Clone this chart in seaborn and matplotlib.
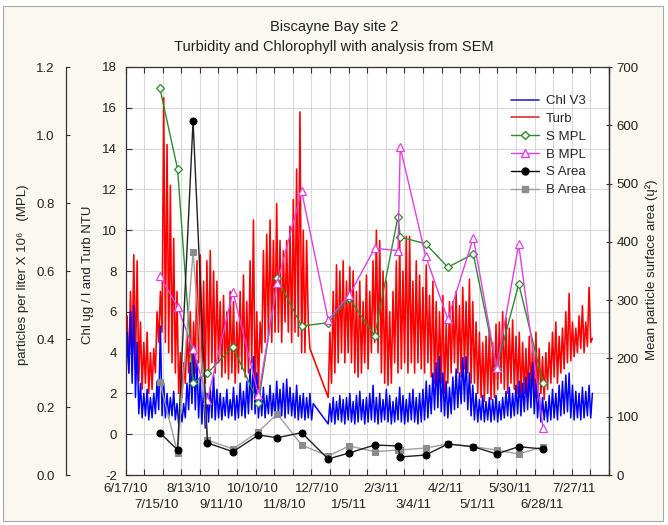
import numpy as np
import pandas as pd
import matplotlib
matplotlib.use("Agg")
import matplotlib.pyplot as plt
import seaborn as sns
from matplotlib.lines import Line2D
from matplotlib.patches import Rectangle

# ---------------- data ----------------
START = "2010-06-17"
tick_labels = ["6/17/10", "7/15/10", "8/13/10", "9/11/10", "10/10/10", "11/8/10",
               "12/7/10", "1/5/11", "2/3/11", "3/4/11", "4/2/11", "5/1/11",
               "5/30/11", "6/28/11", "7/27/11"]

# continuous records, one low/high pair every 3 days starting 6/17/10 (None = no data)
step_days = 3
turb_lo = [3.5, 3.0, 4.0, 3.2, 2.6, 2.2, 2.5, 2.0, 2.2, 3.0,
           4.5, 5.0, 4.5, 4.0, 3.5, 3.0, 2.0, 1.8, 2.5, 3.0,
           2.5, 3.0, 3.5, 3.0, 2.5, 3.0, 3.5, 3.0, 3.5, 2.8,
           3.0, 2.7, 3.0, 2.5, 3.0, 3.2, 2.8, 3.0, 3.5, 2.0,
           2.2, 4.0, 4.5, 4.8, 4.5, 5.0, 5.0, 4.5, 5.5, 5.0,
           4.5, 5.0, 4.8, 4.0, 4.0, 5.5, None, None, None, None,
           None, 1.8, 2.5, 3.0, 3.5, 4.0, 3.5, 4.0, 3.5, 3.0,
           2.8, 3.0, 3.5, 3.2, 4.0, 4.5, 4.0, 3.0, 2.5, 2.4,
           2.5, 3.5, 3.0, 3.2, 3.5, 3.0, 3.5, 3.0, 3.5, 3.2,
           3.0, 3.5, 2.8, 2.5, 2.2, 2.5, 2.0, 2.5, 3.0, 3.5,
           3.0, 2.8, 3.2, 3.0, 2.5, 2.5, 2.0, 1.8, 1.6, 2.0,
           1.7, 1.8, 2.2, 2.5, 2.2, 2.0, 2.5, 2.2, 2.0, 1.8,
           2.0, 1.8, 2.2, 1.6, 1.8, 2.0, 1.7, 2.2, 2.5, 2.8,
           2.5, 3.0, 3.2, 3.5, 3.6, 3.8, 4.0, 4.2, 4.0, 4.3,
           4.5]
turb_hi = [5.8, 7.0, 8.8, 8.5, 5.5, 4.5, 5.0, 4.0, 4.2, 6.0,
           7.0, 16.5, 14.2, 12.2, 9.6, 7.0, 4.0, 3.5, 5.0, 6.0,
           5.5, 8.5, 8.8, 7.5, 8.5, 9.0, 8.0, 7.5, 6.5, 6.8,
           6.0, 7.0, 6.5, 5.5, 7.0, 7.8, 6.5, 8.5, 10.5, 6.0,
           5.5, 9.0, 9.8, 10.5, 9.5, 11.3, 9.5, 9.0, 9.5, 10.2,
           11.5, 13.0, 15.8, 10.0, 9.5, 4.2, None, None, None, None,
           None, 5.0, 7.0, 8.3, 8.0, 8.5, 7.5, 8.2, 8.0, 7.0,
           7.5, 6.5, 7.8, 7.0, 8.5, 10.0, 9.5, 8.0, 7.5, 6.0,
           7.0, 8.5, 9.5, 8.0, 9.7, 9.7, 7.5, 8.5, 7.8, 7.2,
           8.3, 6.8, 7.5, 6.5, 6.0, 6.8, 5.5, 6.5, 6.5, 7.0,
           6.3, 7.2, 6.5, 7.6, 6.5, 5.5, 5.0, 4.5, 4.8, 5.2,
           4.5, 5.4, 5.5, 6.0, 5.7, 5.2, 5.6, 4.8, 5.0, 4.5,
           4.2, 4.8, 4.3, 5.0, 4.2, 3.8, 4.0, 4.5, 5.0, 5.5,
           4.8, 5.2, 6.0, 6.9, 5.5, 5.2, 5.8, 6.3, 5.5, 7.2,
           4.7]
chl_lo = [2.0, 3.0, 2.5, 1.8, 1.0, 0.8, 0.9, 0.7, 0.8, 1.0,
          1.2, 0.9, 0.8, 0.8, 0.9, 0.7, 0.5, 0.6, 0.8, 1.2,
          1.5, 1.2, 0.8, 0.5, 0.3, 0.6, 0.8, 0.7, 0.8, 0.7,
          0.9, 0.8, 0.9, 0.7, 0.8, 0.9, 0.8, 1.0, 1.2, 1.0,
          0.8, 0.9, 0.8, 1.0, 0.9, 0.8, 1.0, 0.9, 0.8, 1.0,
          0.9, 0.8, 0.7, 0.8, 0.7, 0.8, 0.7, None, None, None,
          None, 0.5, 0.6, 0.5, 0.7, 0.6, 0.5, 0.7, 0.6, 0.5,
          0.6, 0.7, 0.5, 0.6, 0.7, 0.6, 0.5, 0.6, 0.7, 0.6,
          0.5, 0.6, 0.7, 0.6, 0.5, 0.6, 0.7, 0.6, 0.5, 0.6,
          0.7, 0.8, 1.0, 1.2, 1.3, 1.1, 0.9, 0.8, 1.0, 1.2,
          1.3, 1.5, 1.6, 1.2, 0.9, 0.7, 0.6, 0.7, 0.6, 0.7,
          0.6, 0.7, 0.6, 0.7, 0.8, 0.9, 0.8, 0.9, 1.0, 0.9,
          1.1, 1.2, 1.3, 1.0, 0.8, 0.6, 0.7, 0.6, 0.7, 0.8,
          0.7, 0.9, 1.0, 1.1, 0.8, 0.7, 0.8, 0.7, 0.8, 0.9,
          0.8]
chl_hi = [5.0, 6.0, 6.3, 4.5, 2.5, 2.0, 2.2, 1.8, 2.0, 2.6,
          5.3, 2.5, 2.0, 1.8, 2.1, 1.5, 1.2, 1.5, 2.5, 3.5,
          4.3, 3.6, 2.8, 2.4, 2.0, 2.3, 2.9, 2.2, 2.0, 1.8,
          2.2, 1.7, 2.3, 1.9, 2.5, 2.1, 2.6, 3.2, 3.8, 3.0,
          2.0, 2.3, 1.9, 2.4, 2.0, 2.6, 2.2, 2.5, 2.7, 2.3,
          2.0, 2.4, 1.9, 2.0, 1.8, 2.0, 1.5, None, None, None,
          None, 1.5, 1.8, 1.6, 1.9, 1.7, 1.8, 2.0, 1.6, 1.9,
          2.1, 1.7, 1.8, 2.0, 2.4, 1.8, 2.0, 1.7, 2.2, 1.9,
          1.6, 1.8, 2.3, 1.9, 1.7, 2.0, 2.2, 1.8, 2.0, 2.2,
          2.6, 2.4, 3.0, 3.5, 3.8, 3.0, 2.6, 2.3, 2.8, 3.2,
          3.0, 3.75, 3.8, 3.0, 2.4, 2.0, 1.7, 1.9, 1.6, 1.8,
          1.7, 1.9, 1.6, 1.8, 2.1, 2.3, 2.0, 2.4, 2.6, 2.5,
          2.8, 3.0, 3.5, 2.7, 2.0, 1.8, 1.6, 1.9, 2.2, 2.0,
          2.4, 2.6, 2.9, 3.0, 2.4, 2.1, 2.0, 2.3, 2.1, 2.4,
          2.0]

# SEM samples
sample_dates = ["2010-07-18", "2010-08-03", "2010-08-17", "2010-08-30", "2010-09-22",
                "2010-10-15", "2010-11-01", "2010-11-23", "2010-12-17", "2011-01-05",
                "2011-01-28", "2011-02-18", "2011-02-20", "2011-03-15", "2011-04-04",
                "2011-04-27", "2011-05-18", "2011-06-07", "2011-06-29"]
s_mpl = [1.138, 0.90, 0.27, 0.30, 0.377, 0.212, 0.578, 0.438, 0.448, 0.52,
         0.41, 0.76, 0.70, 0.68, 0.611, 0.65, 0.314, 0.562, 0.27]
b_mpl = [0.585, 0.495, 0.371, 0.221, 0.539, 0.235, 0.565, 0.835, 0.456, 0.529,
         0.667, 0.66, 0.964, 0.644, 0.458, 0.698, 0.314, 0.678, 0.137]
s_area = [72.6, 43.0, 607.5, 55.0, 40.0, 68.6, 64.0, 72.6, 27.5, 37.8,
          51.5, 49.8, 30.9, 34.3, 53.2, 48.6, 36.0, 48.6, 44.6]
b_area = [159.6, 38.3, 382.7, 60.0, 44.6, 74.3, 104.7, 51.5, 32.6, 49.8,
          40.0, 42.9, 42.9, 46.3, 53.2, 48.6, 42.9, 36.0, 48.6]

# ---------------- frames ----------------
start = pd.Timestamp(START)


def zigzag(lo, hi, name):
    rows = []
    for i, (a, b) in enumerate(zip(lo, hi)):
        if a is None or b is None:
            continue
        d = i * step_days
        rows.append((d, a))
        rows.append((d + step_days / 2, b))
    return pd.DataFrame(rows, columns=["day", name])


turb_df = zigzag(turb_lo, turb_hi, "turb")
chl_df = zigzag(chl_lo, chl_hi, "chl")
samp = pd.DataFrame({
    "day": [(pd.Timestamp(d) - start).days for d in sample_dates],
    "s_mpl": s_mpl, "b_mpl": b_mpl, "s_area": s_area, "b_area": b_area,
})
label_days = [(pd.to_datetime(l, format="%m/%d/%y") - start).days for l in tick_labels]

# ---------------- style ----------------
sns.set_theme(style="white")
plt.rcParams["font.family"] = ["Liberation Sans", "DejaVu Sans"]
plt.rcParams["axes.unicode_minus"] = False

W, H = 668, 525
fig = plt.figure(figsize=(W / 100, H / 100), dpi=100)
fig.patch.set_facecolor("white")
fig.add_artist(Rectangle((3 / W, 1 - 521 / H), 660 / W, 515 / H, transform=fig.transFigure,
                         facecolor="#FBF8EF", edgecolor="#A8A8A8", lw=0.8, zorder=-10))

L, R, T, B = 125.5, 609, 67, 475
ax = fig.add_axes([L / W, 1 - B / H, (R - L) / W, (B - T) / H])
ax.set_facecolor("white")

RED = "#FF0000"
BLUE = "#0000FF"
GREEN = "#2E8B2E"
MAGENTA = "#E040E0"
GRAY = "#8C8C8C"

sns.lineplot(data=turb_df, x="day", y="turb", ax=ax, color=RED, lw=1.15,
             estimator=None, sort=False, legend=False)
sns.lineplot(data=chl_df, x="day", y="chl", ax=ax, color=BLUE, lw=1.1,
             estimator=None, sort=False, legend=False)

xmax = 436.5
ax.set_xlim(0, xmax)
ax.set_ylim(-2, 18)
ax.set_yticks(list(range(-2, 19, 2)))
# two staggered rows of date labels
ax.set_xticks(label_days[0::2])
ax.set_xticklabels(tick_labels[0::2])
ax.set_xticks(np.linspace(0, xmax, 27), minor=True)
ax.xaxis.remove_overlapping_locs = False
ax.tick_params(axis="x", which="major", length=0, pad=5.5, labelsize=9.5, labelcolor="#222222")
ax.tick_params(axis="x", which="minor", direction="in", length=4, width=0.8,
               top=True, bottom=True, color="#333333")
ax.tick_params(axis="y", which="major", direction="in", length=4, width=0.8,
               left=True, right=False, pad=6, labelsize=9.5, labelcolor="#222222",
               color="#333333")
sec = ax.secondary_xaxis("bottom")
sec.set_xticks(label_days[1::2])
sec.set_xticklabels(tick_labels[1::2])
sec.tick_params(axis="x", length=0, pad=17.5, labelsize=9.5, labelcolor="#222222")
sec.spines["bottom"].set_visible(False)

ax.grid(False)
ax.grid(True, which="minor", axis="x", color="#D9D9D9", lw=0.8)
ax.grid(True, which="major", axis="y", color="#D9D9D9", lw=0.8)
ax.set_xlabel("")
ax.set_ylabel("")
for s in ax.spines.values():
    s.set_color("#333333")
    s.set_linewidth(0.9)

# outer left axis: particles per liter
ax_l = ax.twinx()
sns.lineplot(data=samp, x="day", y="s_mpl", ax=ax_l, color=GREEN, lw=1.0,
             marker="D", markersize=4.5, markerfacecolor="white", markeredgecolor=GREEN,
             markeredgewidth=0.9, estimator=None, sort=False, legend=False)
sns.lineplot(data=samp, x="day", y="b_mpl", ax=ax_l, color=MAGENTA, lw=1.0,
             marker="^", markersize=6, markerfacecolor="white", markeredgecolor=MAGENTA,
             markeredgewidth=0.9, estimator=None, sort=False, legend=False)
ax_l.set_ylim(0, 1.2)
ax_l.set_yticks([0.0, 0.2, 0.4, 0.6, 0.8, 1.0, 1.2])
ax_l.set_yticklabels([f"{v:.1f}" for v in [0.0, 0.2, 0.4, 0.6, 0.8, 1.0, 1.2]])
ax_l.yaxis.set_ticks_position("left")
ax_l.spines["left"].set_position(("axes", (66 - L) / (R - L)))
ax_l.spines["left"].set_visible(True)
for k in ["right", "top", "bottom"]:
    ax_l.spines[k].set_visible(False)
ax_l.spines["left"].set_color("#333333")
ax_l.spines["left"].set_linewidth(0.9)
ax_l.tick_params(axis="y", direction="in", length=3, width=0.8, pad=8,
                 labelsize=9.5, labelcolor="#222222", color="#333333")
ax_l.set_ylabel("")
ax_l.set_xlabel("")

# right axis: particle surface area
ax_r = ax.twinx()
sns.lineplot(data=samp, x="day", y="b_area", ax=ax_r, color="#A0A0A0", lw=1.0,
             marker="s", markersize=5, markerfacecolor=GRAY, markeredgecolor=GRAY,
             estimator=None, sort=False, legend=False)
sns.lineplot(data=samp, x="day", y="s_area", ax=ax_r, color="#202020", lw=1.0,
             marker="o", markersize=5, markerfacecolor="black", markeredgecolor="black",
             estimator=None, sort=False, legend=False)
ax_r.set_ylim(0, 700)
ax_r.set_yticks(list(range(0, 701, 100)))
ax_r.yaxis.set_ticks_position("right")
for k in ["left", "top", "bottom"]:
    ax_r.spines[k].set_visible(False)
ax_r.spines["right"].set_color("#333333")
ax_r.spines["right"].set_linewidth(0.9)
ax_r.tick_params(axis="y", direction="inout", length=5, width=0.8, pad=3,
                 labelsize=9.5, labelcolor="#222222", color="#333333")
ax_r.set_ylabel("")
ax_r.set_xlabel("")
ax.set_xlim(0, xmax)

# legend
handles = [
    Line2D([], [], color="#2A2AD0", lw=1.2, label="Chl V3"),
    Line2D([], [], color="#E03030", lw=1.2, label="Turb"),
    Line2D([], [], color=GREEN, lw=1.0, marker="D", markersize=4.5,
           markerfacecolor="white", markeredgecolor=GREEN, label="S MPL"),
    Line2D([], [], color=MAGENTA, lw=1.0, marker="^", markersize=6,
           markerfacecolor="white", markeredgecolor=MAGENTA, label="B MPL"),
    Line2D([], [], color="black", lw=1.0, marker="o", markersize=5, label="S Area"),
    Line2D([], [], color="#A0A0A0", lw=1.0, marker="s", markersize=5,
           markerfacecolor=GRAY, markeredgecolor=GRAY, label="B Area"),
]
ax_r.legend(handles=handles, loc="upper left", bbox_to_anchor=(511 / W, 1 - 95 / H),
            bbox_transform=fig.transFigure, frameon=False, fontsize=9.5,
            handlelength=2.1, handletextpad=0.55, labelspacing=0.42,
            borderpad=0, borderaxespad=0)

# titles and axis labels
fig.text(334 / W, 1 - 26.5 / H, "Biscayne Bay site 2", ha="center", va="center",
         fontsize=10.5, color="#222222")
fig.text(334 / W, 1 - 46.5 / H, "Turbidity and Chlorophyll with analysis from SEM",
         ha="center", va="center", fontsize=10.5, color="#222222")
fig.text(23 / W, 1 - 275 / H, "particles per liter X 10\u2076   (MPL)", rotation=90,
         ha="center", va="center", fontsize=9.5, color="#222222")
fig.text(88 / W, 1 - 275 / H, "Chl \u0173g / l and Turb NTU", rotation=90,
         ha="center", va="center", fontsize=9.5, color="#222222")
fig.text(652 / W, 1 - 270 / H, "Mean particle surface area (\u0173\u00b2)", rotation=90,
         ha="center", va="center", fontsize=9.5, color="#222222")

fig.savefig("out.png", dpi=100)
